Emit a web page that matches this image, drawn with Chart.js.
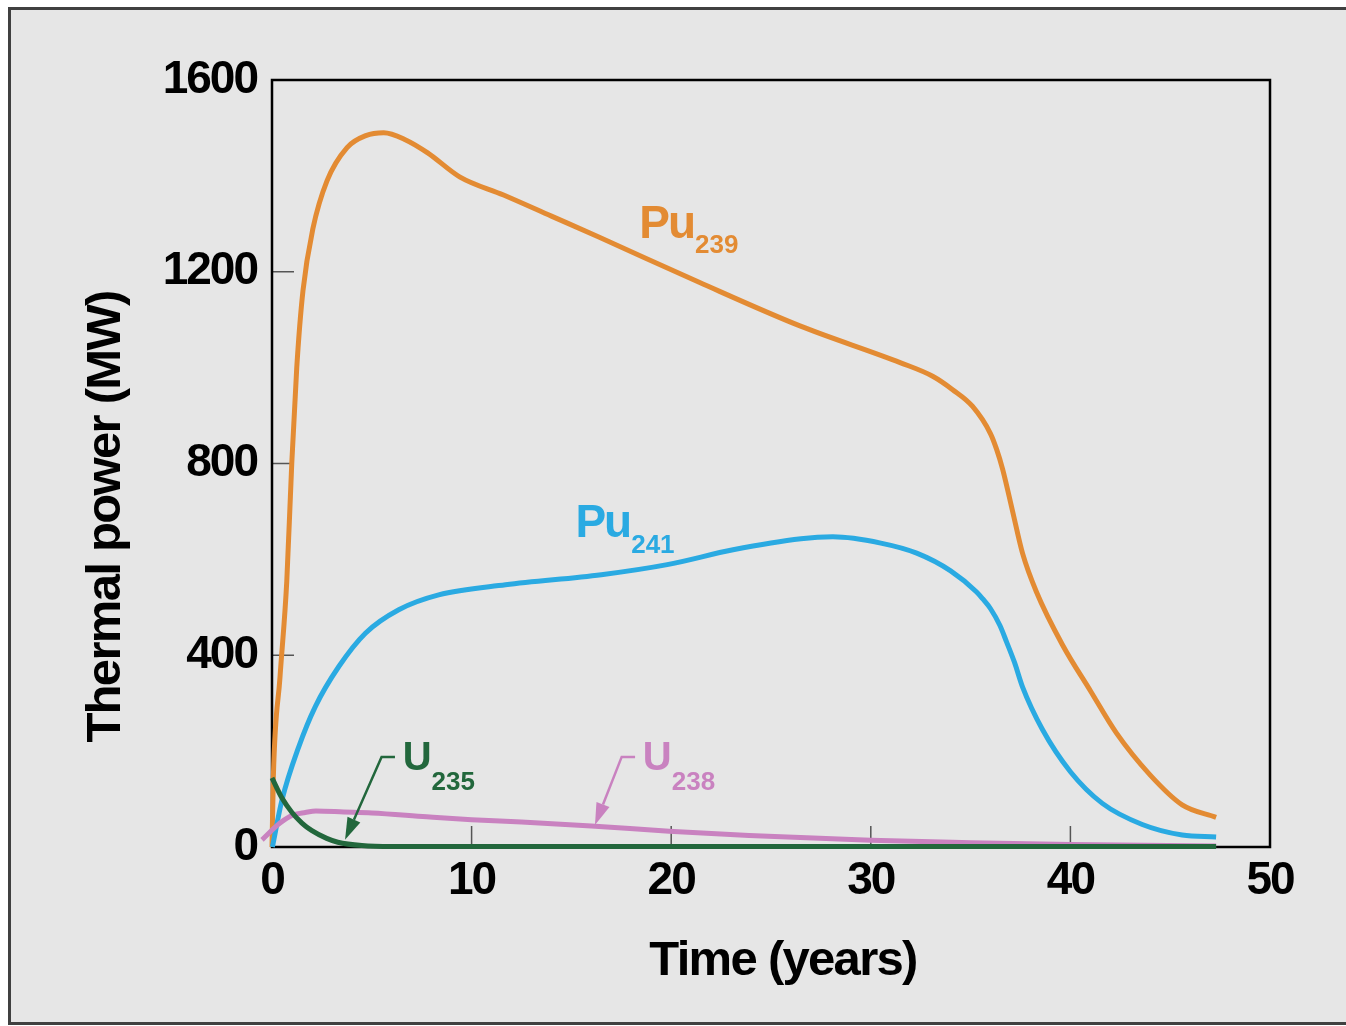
<!DOCTYPE html>
<html lang="en">
<head>
<meta charset="UTF-8">
<title>Thermal power vs time</title>
<script src="https://cdn.jsdelivr.net/npm/chart.js"></script>
<style>
    html, body {
        margin: 0;
        padding: 0;
        background: #fff;
        overflow: hidden;
    }

    .frame {
        position: absolute;
        left: 8px;
        top: 7px;
        width: 3000px;
        height: 1012px;
        background: #e6e6e6;
        border: 3px solid #404040;
        border-right: none;
    }

    #chart {
        position: absolute;
        left: 0;
        top: 0;
    }
</style>
</head>
<body>
<div class="frame"></div>
<canvas id="chart" width="1346" height="1026"></canvas>

<script>
const FONT = '"Liberation Sans", Arial, Helvetica, sans-serif';

const ORANGE = '#e38b33';
const BLUE = '#2aaae2';
const GREEN = '#22673c';
const PINK = '#c982c0';

// tick labels
const yearTicks = [0, 10, 20, 30, 40, 50];
const powerTicks = [0, 400, 800, 1200, 1600];

// Pu-239
const pu239Years = [0, 0.07, 0.4, 0.74, 0.99, 1.24, 1.55, 2.05, 2.76, 3.76, 4.7, 5.6, 6.7, 7.8, 9.4, 11.6, 14,
    16.4, 21.4, 26.45, 31.5, 33.1, 34.1, 35.1, 36, 36.3, 36.6, 37.1, 37.6, 38.3, 39.6, 41, 42.3, 44, 45.6, 47.3];
const pu239Power = [0, 150, 354, 554, 800, 1000, 1160, 1290, 1390, 1459, 1484, 1490, 1475, 1448, 1398, 1360, 1316,
    1272, 1178, 1087, 1010, 982, 954, 919, 862, 830, 789, 701, 613, 532, 422, 326, 238, 150, 88, 62];

// Pu-241
const pu241Years = [0.02, 0.5, 1.34, 2.17, 3.34, 4.68, 6.35, 8.35, 11.7, 16.5, 19.8, 23.1, 26.5, 28.1, 30.5,
    32.3, 34, 35.3, 35.6, 36, 36.47, 36.8, 37.2, 37.6, 38.6, 40, 41.6, 43.6, 45.6, 47.3];
const pu241Power = [0, 98, 209, 293, 376, 446, 495, 526, 547, 568, 589, 620, 643, 647, 634,
    613, 576, 532, 518, 497, 462, 428, 385, 334, 245, 157, 91, 47, 25, 21];

// U-235
const u235Years = [0, 0.5, 1, 1.5, 2, 2.74, 3.3, 4.5, 6, 20, 47.3];
const u235Power = [144, 102, 72, 50, 34, 18, 10, 3, 1, 1, 1];

// U-238
const u238Years = [-0.5, 0.4, 1.07, 1.67, 2.2, 3.6, 5, 7.75, 10, 12.5, 16, 19.9, 23.9, 30, 35, 40, 47.3];
const u238Power = [15, 50, 67, 72, 75, 73, 71, 63, 57, 52, 44, 33, 24, 14, 9, 5, 2];

// isotope labels, anchored in data units (baseline-left of the big letters)
const notes = [
    {main: 'Pu', sub: '239', t: 18.4, p: 1271, color: ORANGE, size: 46, gap: 1, drop: 15},
    {main: 'Pu', sub: '241', t: 15.2, p: 647, color: BLUE, size: 46, gap: 1, drop: 16},
    {main: 'U', sub: '235', t: 6.55, p: 161, color: GREEN, size: 40, gap: 2, drop: 20},
    {main: 'U', sub: '238', t: 18.58, p: 161, color: PINK, size: 40, gap: 2, drop: 20}
];

// leader arrows (data units), last point is the tip
const pointers = [
    {color: GREEN, path: [[6.16, 188], [5.49, 188], [3.66, 15]]},
    {color: PINK, path: [[18.19, 188], [17.52, 188], [16.18, 46]]}
];

function pts(xs, ys) {
    return xs.map((x, i) => ({x: x, y: ys[i]}));
}

function series(label, xs, ys, color) {
    return {
        label: label,
        data: pts(xs, ys),
        borderColor: color,
        backgroundColor: color,
        borderWidth: 5,
        pointRadius: 0,
        cubicInterpolationMode: 'monotone',
        clip: false
    };
}

const decor = {
    id: 'decor',
    beforeDraw(chart) {
        chart.ctx.letterSpacing = '-2px';
    },
    beforeDatasetsDraw(chart) {
        const {ctx, chartArea: a, scales: {x, y}} = chart;
        ctx.save();
        ctx.strokeStyle = '#555';
        ctx.lineWidth = 1.5;
        ctx.beginPath();
        yearTicks.slice(1, -1).forEach(v => {
            const px = x.getPixelForValue(v);
            ctx.moveTo(px, a.bottom);
            ctx.lineTo(px, a.bottom - 21);
        });
        powerTicks.slice(1, -1).forEach(v => {
            const py = y.getPixelForValue(v);
            ctx.moveTo(a.left, py);
            ctx.lineTo(a.left + 22, py);
        });
        ctx.stroke();
        ctx.strokeStyle = '#000';
        ctx.lineWidth = 2.5;
        ctx.strokeRect(a.left, a.top, a.right - a.left, a.bottom - a.top);
        ctx.restore();
    },
    afterDatasetsDraw(chart) {
        const {ctx, scales: {x, y}} = chart;
        ctx.save();

        // arrows
        pointers.forEach(pt => {
            const p = pt.path.map(q => [x.getPixelForValue(q[0]), y.getPixelForValue(q[1])]);
            const tip = p[p.length - 1];
            const prev = p[p.length - 2];
            const ang = Math.atan2(tip[1] - prev[1], tip[0] - prev[0]);
            const len = 22, half = 7;
            const bx = tip[0] - len * Math.cos(ang), by = tip[1] - len * Math.sin(ang);
            ctx.strokeStyle = pt.color;
            ctx.fillStyle = pt.color;
            ctx.lineWidth = 2.5;
            ctx.beginPath();
            ctx.moveTo(p[0][0], p[0][1]);
            for (let i = 1; i < p.length - 1; i++) ctx.lineTo(p[i][0], p[i][1]);
            ctx.lineTo(bx, by);
            ctx.stroke();
            ctx.beginPath();
            ctx.moveTo(tip[0], tip[1]);
            ctx.lineTo(bx + half * Math.sin(ang), by - half * Math.cos(ang));
            ctx.lineTo(bx - half * Math.sin(ang), by + half * Math.cos(ang));
            ctx.closePath();
            ctx.fill();
        });

        // isotope labels
        ctx.textBaseline = 'alphabetic';
        ctx.textAlign = 'left';
        notes.forEach(n => {
            const px = x.getPixelForValue(n.t);
            const py = y.getPixelForValue(n.p);
            ctx.fillStyle = n.color;
            ctx.letterSpacing = '-2px';
            ctx.font = `bold ${n.size}px ${FONT}`;
            ctx.fillText(n.main, px, py);
            const w = ctx.measureText(n.main).width;
            ctx.letterSpacing = '0px';
            ctx.font = `bold 26px ${FONT}`;
            ctx.fillText(n.sub, px + w + n.gap, py + n.drop);
        });
        ctx.restore();
    },
    afterDraw(chart) {
        const {ctx, chartArea: a} = chart;
        ctx.save();
        ctx.fillStyle = '#000';
        ctx.letterSpacing = '-1.7px';
        ctx.font = `bold 49px ${FONT}`;
        ctx.textAlign = 'center';
        ctx.textBaseline = 'alphabetic';
        ctx.fillText('Time (years)', a.left + 511, a.bottom + 128);
        ctx.translate(a.left - 152, a.bottom - 330);
        ctx.rotate(-Math.PI / 2);
        ctx.fillText('Thermal power (MW)', 0, 0);
        ctx.restore();
    }
};

new Chart(document.getElementById('chart'), {
    type: 'line',
    data: {
        datasets: [
            series('U235', u235Years, u235Power, GREEN),
            series('U238', u238Years, u238Power, PINK),
            series('Pu241', pu241Years, pu241Power, BLUE),
            series('Pu239', pu239Years, pu239Power, ORANGE)
        ]
    },
    options: {
        responsive: false,
        animation: false,
        layout: {padding: {left: 0, top: 80, right: 76, bottom: 0}},
        plugins: {legend: {display: false}, tooltip: {enabled: false}},
        scales: {
            x: {
                type: 'linear',
                min: 0,
                max: 50,
                afterBuildTicks: s => { s.ticks = yearTicks.map(v => ({value: v})); },
                afterFit: s => { s.height = 179; },
                grid: {display: false, drawTicks: false},
                border: {display: false},
                ticks: {
                    color: '#000',
                    padding: 7,
                    font: {family: FONT, size: 46, weight: 'bold', lineHeight: 1.2},
                    callback: v => String(v),
                    maxRotation: 0
                }
            },
            y: {
                type: 'linear',
                min: 0,
                max: 1600,
                afterBuildTicks: s => { s.ticks = powerTicks.map(v => ({value: v})); },
                afterFit: s => { s.width = 272; },
                grid: {display: false, drawTicks: false},
                border: {display: false},
                ticks: {
                    color: '#000',
                    padding: 15,
                    font: {family: FONT, size: 46, weight: 'bold', lineHeight: 1.2},
                    callback: v => String(v)
                }
            }
        }
    },
    plugins: [decor]
});
</script>
</body>
</html>
